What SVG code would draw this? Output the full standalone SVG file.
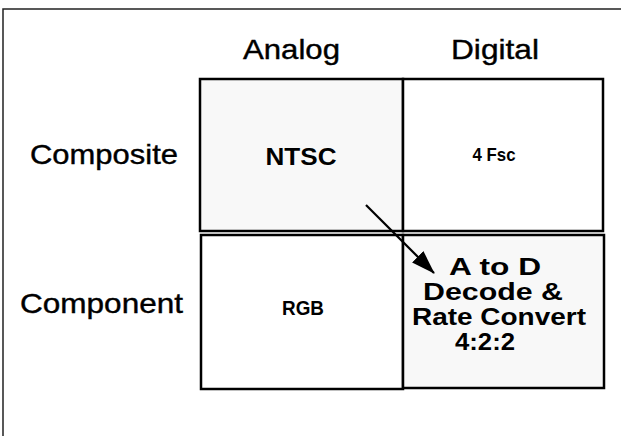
<svg xmlns="http://www.w3.org/2000/svg" width="621" height="436" viewBox="0 0 621 436">
<style>
.frame{fill:none;stroke:#222;stroke-width:1.5}
.cell{stroke:#000;stroke-width:2.5}
.shade{fill:#f8f8f8}
.plain{fill:#fff}
.hdr{font-family:"Liberation Sans",Arial,sans-serif;font-size:28px;fill:#000;stroke:#000;stroke-width:0.4}
.lbl{font-family:"Liberation Sans",Arial,sans-serif;font-weight:bold;fill:#000;text-anchor:middle}
.conn{stroke:#000;stroke-width:2.2;fill:none}
</style>
<defs>
<marker id="ah" markerWidth="24" markerHeight="16" refX="23" refY="8" orient="auto" markerUnits="userSpaceOnUse" viewBox="0 0 24 16">
<path d="M0,0 L24,8 L0,16 Z" fill="#000"/>
</marker>
</defs>
<rect width="621" height="436" fill="#fff"/>
<path class="frame" d="M3,436 L3,9 L621,9"/>
<g id="headers">
<text class="hdr" x="243" y="59" textLength="97" lengthAdjust="spacingAndGlyphs">Analog</text>
<text class="hdr" x="451" y="59" textLength="88" lengthAdjust="spacingAndGlyphs">Digital</text>
<text class="hdr" x="30" y="164" textLength="148" lengthAdjust="spacingAndGlyphs">Composite</text>
<text class="hdr" x="20" y="313" textLength="163" lengthAdjust="spacingAndGlyphs">Component</text>
</g>
<g id="ntsc">
<rect class="cell shade" x="200" y="79" width="203" height="152"/>
<text class="lbl" x="301" y="165" font-size="23" textLength="71" lengthAdjust="spacingAndGlyphs">NTSC</text>
</g>
<g id="fsc">
<rect class="cell plain" x="403" y="79" width="200" height="152"/>
<text class="lbl" x="494" y="161" font-size="19" textLength="43" lengthAdjust="spacingAndGlyphs">4 Fsc</text>
</g>
<g id="rgb">
<rect class="cell plain" x="201" y="235" width="202" height="154"/>
<text class="lbl" x="303" y="315" font-size="21" textLength="42" lengthAdjust="spacingAndGlyphs">RGB</text>
</g>
<g id="atod">
<rect class="cell shade" x="403" y="235" width="201" height="153"/>
<text class="lbl" x="495" y="275" font-size="23" textLength="92" lengthAdjust="spacingAndGlyphs">A to D</text>
<text class="lbl" x="493" y="300" font-size="23" textLength="140" lengthAdjust="spacingAndGlyphs">Decode &amp;</text>
<text class="lbl" x="499" y="325" font-size="23" textLength="174" lengthAdjust="spacingAndGlyphs">Rate Convert</text>
<text class="lbl" x="485" y="350" font-size="23" textLength="60" lengthAdjust="spacingAndGlyphs">4:2:2</text>
</g>
<g id="connectors">
<line class="conn" x1="366" y1="205" x2="434" y2="273" marker-end="url(#ah)"/>
</g>
</svg>
